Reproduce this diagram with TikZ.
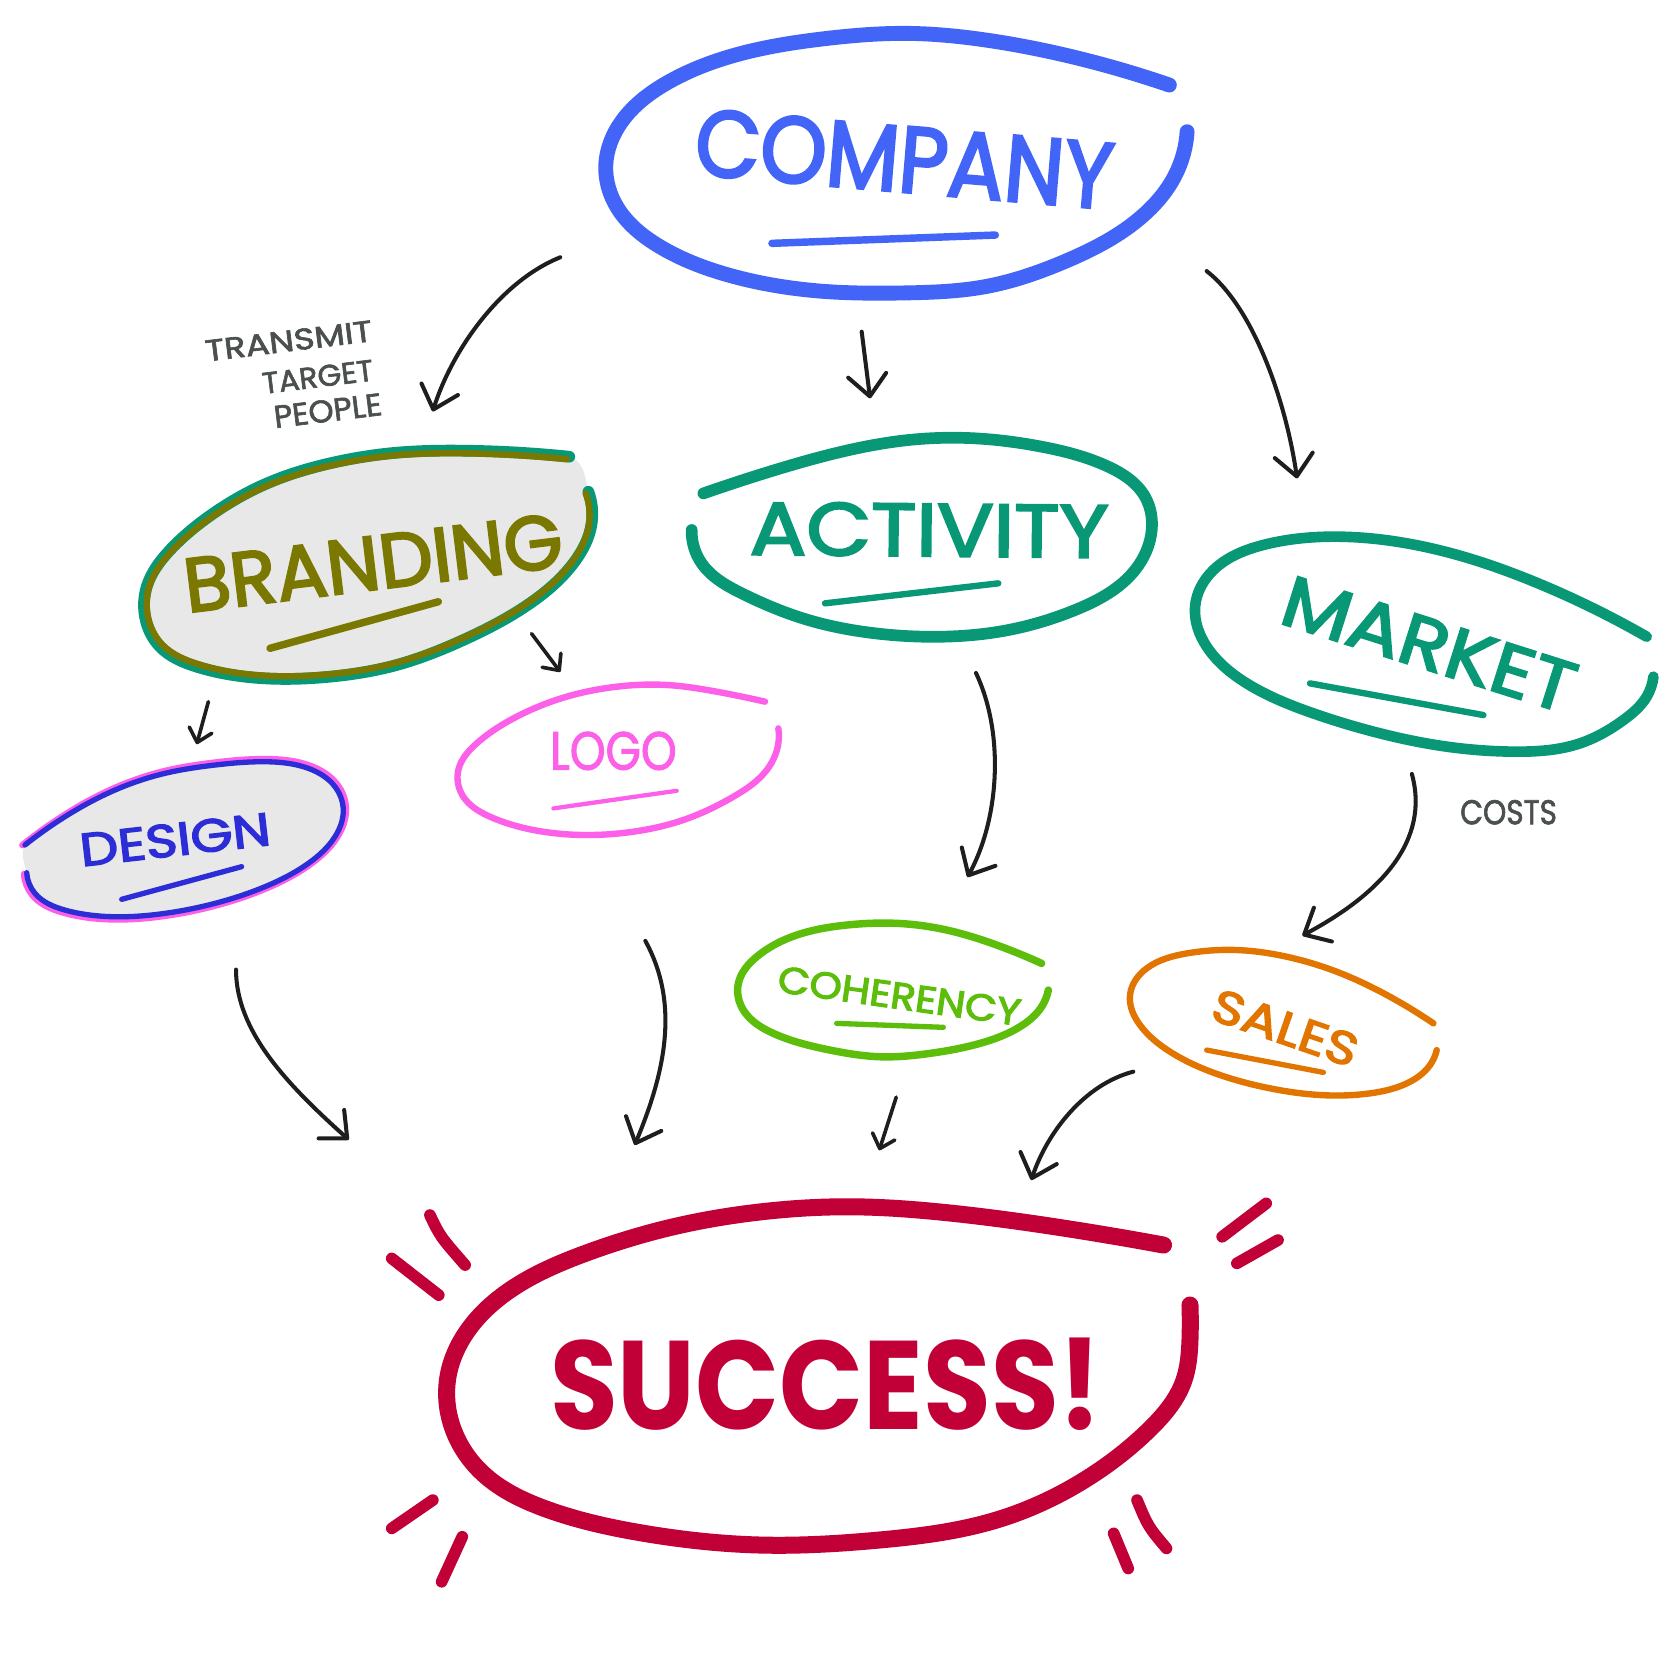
\documentclass[tikz,border=0pt]{standalone}
\usepackage{fontspec}
\setmainfont{Poppins}
\newfontfamily\handfont{Poppins}[FakeBold=3]
\newfontfamily\lightfont{Poppins}[FakeBold=2]
\usepackage{graphicx}
\usetikzlibrary{arrows.meta,hobby}
\definecolor{cblue}{RGB}{67,101,247}
\definecolor{cteal}{RGB}{8,152,118}
\definecolor{colive}{RGB}{122,120,0}
\definecolor{cfill}{RGB}{232,232,232}
\definecolor{cdblue}{RGB}{45,45,215}
\definecolor{cpink}{RGB}{252,95,232}
\definecolor{cgreen}{RGB}{92,190,10}
\definecolor{corange}{RGB}{225,117,0}
\definecolor{ccrimson}{RGB}{193,0,55}
\definecolor{cink}{RGB}{30,30,30}
\definecolor{cgray}{RGB}{73,80,77}
\newcommand{\fitbox}[3]{\resizebox*{#1pt}{#2pt}{#3}}
\tikzset{
  ring/.style={line cap=round, line join=round, use Hobby shortcut},
  uline/.style={line cap=round},
  txt/.style={inner sep=0pt, outer sep=0pt},
  bigarrow/.style={draw=cink, line width=3.8pt, line cap=round, -{Straight Barb[length=20pt,width=36pt,round]}},
  smallarrow/.style={draw=cink, line width=3.4pt, line cap=round, -{Straight Barb[length=12pt,width=22pt,round]}},
  burst/.style={draw=ccrimson, line width=11pt, line cap=round},
}
\begin{document}
\begin{tikzpicture}[x=1pt,y=-1pt]
\fill[white] (0,0) rectangle (1568,1568);
\useasboundingbox (0,0) rectangle (1568,1568);

% ---------- COMPANY ----------
\draw[ring, draw=cblue, line width=14pt] (1099.9,80) .. (1001.3,51.7) .. (926.9,37.6) .. (852.5,31.4) .. (778.1,36.1) .. (703.8,48.6) .. (629.4,76.8) .. (584.7,114.4) .. (569.8,155.2) .. (581.1,196) .. (618.2,230.5) .. (685.2,258.7) .. (778.1,274.3) .. (852.5,275.5) .. (926.9,269.6) .. (1001.3,246.1) .. (1075.7,202.2) .. (1105.5,164.6) .. (1116.6,123.9);
\node[txt, text=cblue, rotate=-4.8] (company) at (850.7,149.7) {\fitbox{394}{63}{\handfont COMPANY}};
\draw[uline, draw=cblue, line width=7pt] (726.1,228.9) -- (936.2,221.1);

% ---------- ACTIVITY ----------
\draw[ring, draw=cteal, line width=11pt] (661.6,464.1) .. (729,442.1) .. (791.7,424.9) .. (854.4,413.9) .. (917.1,412.3) .. (979.9,420.2) .. (1042.5,439) .. (1077,467.2) .. (1083.3,498.5) .. (1067.6,536.2) .. (1011.2,573.8) .. (948.5,592.6) .. (885.8,598.9) .. (823.1,595.7) .. (760.3,583.2) .. (697.7,558.1) .. (660,529.9) .. (650.6,498.5);
\node[txt, text=cteal, rotate=-0.5] (activity) at (874,498.5) {\fitbox{337}{50}{\handfont ACTIVITY}};
\draw[uline, draw=cteal, line width=6pt] (776,567.5) -- (939,548.7);

% ---------- MARKET ----------
\draw[ring, draw=cteal, line width=10pt] (1548.9,598.9) .. (1501.9,573.8) .. (1439.2,545.6) .. (1376.5,523.6) .. (1313.8,509.5) .. (1251.1,504.8) .. (1188.3,512.6) .. (1141.3,536.2) .. (1124.1,570.7) .. (1135.1,608.3) .. (1172.7,642.8) .. (1235.3,671) .. (1298.1,689.8) .. (1360.8,702.3) .. (1423.5,707) .. (1486.2,699.2) .. (1527,677.3) .. (1548.9,655.3) .. (1555.2,636.5);
\node[txt, text=cteal, rotate=-17.6] (market) at (1344.4,606) {\fitbox{285}{47}{\handfont MARKET}};
\draw[uline, draw=cteal, line width=6pt] (1232.2,642.8) -- (1395.3,672.6);

% ---------- BRANDING ----------
\fill[cfill] plot[smooth cycle] coordinates {(535.5,429.6) (435.8,423.9) (373.1,425.8) (310.4,435.8) (247.7,456.2) (200.7,482.9) (159.9,517.4) (138,551.9) (136.4,580) (150.5,608.3) (185,627.1) (247.7,638) (310.4,636.5) (373.1,625.5) (435.8,602) (498.5,567.5) (539.3,529.9) (556.5,492.3) (553.4,462.5)};
\draw[ring, draw=cteal, line width=11pt] (535.5,429.6) .. (435.8,423.9) .. (373.1,425.8) .. (310.4,435.8) .. (247.7,456.2) .. (200.7,482.9) .. (159.9,517.4) .. (138,551.9) .. (136.4,580) .. (150.5,608.3) .. (185,627.1) .. (247.7,638) .. (310.4,636.5) .. (373.1,625.5) .. (435.8,602) .. (498.5,567.5) .. (539.3,529.9) .. (556.5,492.3) .. (553.4,462.5);
\begin{scope}[shift={(346.5,531)}, xscale=0.988, yscale=0.977, shift={(-346.5,-531)}]
\draw[ring, draw=colive, line width=6pt] (535.5,429.6) .. (435.8,423.9) .. (373.1,425.8) .. (310.4,435.8) .. (247.7,456.2) .. (200.7,482.9) .. (159.9,517.4) .. (138,551.9) .. (136.4,580) .. (150.5,608.3) .. (185,627.1) .. (247.7,638) .. (310.4,636.5) .. (373.1,625.5) .. (435.8,602) .. (498.5,567.5) .. (539.3,529.9) .. (556.5,492.3) .. (553.4,462.5);
\end{scope}
\node[txt, text=colive, rotate=7] (branding) at (351,529.5) {\fitbox{358}{51}{\handfont BRANDING}};
\draw[uline, draw=colive, line width=7pt] (254,609.8) -- (412.3,566);

% ---------- DESIGN ----------
\fill[cfill] plot[smooth cycle] coordinates {(23.5,794.8) (61.1,768.2) (108.2,743.1) (155.2,727.4) (202.2,719.6) (249.3,716.5) (290,722.7) (315.1,740) (322.9,761.9) (315.1,787) (290,812.1) (249.3,834) (202.2,849.7) (155.2,859.1) (108.2,862.3) (61.1,856) (32.9,840.3) (25.1,820.9)};
\begin{scope}[shift={(173,789.4)}, xscale=1.017, yscale=1.035, shift={(-173,-789.4)}]
\draw[ring, draw=cpink, line width=6pt] (23.5,794.8) .. (61.1,768.2) .. (108.2,743.1) .. (155.2,727.4) .. (202.2,719.6) .. (249.3,716.5) .. (290,722.7) .. (315.1,740) .. (322.9,761.9) .. (315.1,787) .. (290,812.1) .. (249.3,834) .. (202.2,849.7) .. (155.2,859.1) .. (108.2,862.3) .. (61.1,856) .. (32.9,840.3) .. (25.1,820.9);
\end{scope}
\draw[ring, draw=cdblue, line width=5pt] (23.5,794.8) .. (61.1,768.2) .. (108.2,743.1) .. (155.2,727.4) .. (202.2,719.6) .. (249.3,716.5) .. (290,722.7) .. (315.1,740) .. (322.9,761.9) .. (315.1,787) .. (290,812.1) .. (249.3,834) .. (202.2,849.7) .. (155.2,859.1) .. (108.2,862.3) .. (61.1,856) .. (32.9,840.3) .. (25.1,820.9);
\node[txt, text=cdblue, rotate=6.5] (design) at (164.7,789.7) {\fitbox{180}{31}{\handfont DESIGN}};
\draw[uline, draw=cdblue, line width=5pt] (114.5,845.9) -- (227.3,815.2);

% ---------- LOGO ----------
\draw[ring, draw=cpink, line width=6pt] (719.6,660) .. (674.1,650.6) .. (627.1,644.3) .. (580.1,645.9) .. (533,655.3) .. (486,674.1) .. (448.4,699.2) .. (431.1,724.3) .. (435.8,749.4) .. (460.9,768.2) .. (501.7,780.7) .. (548.7,785.4) .. (595.7,782.3) .. (642.7,771.3) .. (689.8,749.4) .. (721.2,724.3) .. (732.1,699.2) .. (732.1,685.1);
\node[txt, text=cpink] (logo) at (577,706.3) {\fitbox{119}{36}{\lightfont LOGO}};
\draw[uline, draw=cpink, line width=4pt] (520.5,760.4) -- (636.5,743.8);

% ---------- COHERENCY ----------
\draw[ring, draw=cgreen, line width=7pt] (979.8,906.2) .. (937.5,888.9) .. (890.5,874.8) .. (843.5,868.5) .. (796.4,870.1) .. (749.4,879.5) .. (711.8,899.9) .. (694.5,925) .. (699.2,950.1) .. (727.4,972) .. (780.7,987.7) .. (827.8,994) .. (874.8,990.8) .. (921.8,981.4) .. (959.5,965.7) .. (979.8,946.9) .. (986.1,931.2);
\node[txt, text=cgreen, rotate=-8] (coherency) at (846,936.7) {\fitbox{230}{25}{\handfont COHERENCY}};
\draw[uline, draw=cgreen, line width=5pt] (787,962.6) -- (887.3,966.3);

% ---------- SALES ----------
\draw[ring, draw=corange, line width=6pt] (1348.3,962.6) .. (1304.4,935.9) .. (1257.3,914) .. (1210.3,899.9) .. (1163.3,893.6) .. (1116.2,896.8) .. (1078.6,910.8) .. (1062.9,935.9) .. (1072.3,964.2) .. (1100.6,989.3) .. (1147.6,1011.2) .. (1194.6,1023.7) .. (1241.7,1030) .. (1288.7,1028.4) .. (1326.3,1017.5) .. (1345.1,1001.8) .. (1351.4,987.7);
\node[txt, text=corange, rotate=-19] (sales) at (1209,966.9) {\fitbox{142}{31}{\handfont SALES}};
\draw[uline, draw=corange, line width=5pt] (1135,987.7) -- (1244.8,1008.7);

% ---------- SUCCESS ----------
\draw[ring, draw=ccrimson, line width=16pt] (1094.4,1171.1) .. (992.3,1153.9) .. (881.9,1139.8) .. (799.1,1135.1) .. (716.3,1139.8) .. (633.4,1153.9) .. (550.7,1178.9) .. (484.4,1210.3) .. (440.2,1251.1) .. (420.9,1298.1) .. (426.5,1345.1) .. (454.1,1385.9) .. (512,1418.8) .. (605.9,1442.3) .. (716.3,1453.3) .. (826.6,1448.6) .. (937.1,1429.8) .. (1019.9,1392.2) .. (1080.6,1345.1) .. (1113.7,1298.1) .. (1119.3,1260.5) .. (1119.3,1227.5);
\node[txt, text=ccrimson] (success) at (777,1301.6) {\fitbox{519}{87}{\bfseries SUCCESS!}};
\draw[burst] (404.4,1142.9) .. controls (414,1163) .. (437.5,1189.9);
\draw[burst] (368.5,1183.7) -- (412.7,1218.2);
\draw[burst] (1191,1131.9) -- (1149.6,1163.3);
\draw[burst] (1202.1,1166.4) -- (1163.4,1188.3);
\draw[burst] (407.1,1411) -- (368.5,1437.6);
\draw[burst] (434.8,1445.5) -- (415.4,1487.8);
\draw[burst] (1069.5,1411) .. controls (1080,1436) .. (1097.2,1456.4);
\draw[burst] (1047.5,1442.3) -- (1061.2,1475.3);

% ---------- side notes ----------
\node[txt, text=cgray, rotate=7, anchor=east] (transmit) at (350,311) {\fitbox{158}{20}{\lightfont TRANSMIT}};
\node[txt, text=cgray, rotate=7, anchor=east] (target) at (351,348) {\fitbox{105}{20}{\lightfont TARGET}};
\node[txt, text=cgray, rotate=7, anchor=east] (people) at (359,380) {\fitbox{102}{21}{\lightfont PEOPLE}};
\node[txt, text=cgray] (costs) at (1419,764) {\fitbox{91}{23}{\lightfont COSTS}};

% ---------- connector end points ----------
\coordinate (a1s) at (527,242);   \coordinate (a1e) at (407,387);
\coordinate (a2s) at (810.5,312); \coordinate (a2e) at (818.4,374.7);
\coordinate (a3s) at (1135,255);  \coordinate (a3e) at (1220,450);
\coordinate (a4s) at (196,660);   \coordinate (a4e) at (185,700);
\coordinate (a5s) at (500,596);   \coordinate (a5e) at (527,632);
\coordinate (a6s) at (918,633);   \coordinate (a6e) at (910,825);
\coordinate (a7s) at (1328,728);  \coordinate (a7e) at (1225,880);
\coordinate (a8s) at (222,912);   \coordinate (a8e) at (328,1072);
\coordinate (a9s) at (607,885);   \coordinate (a9e) at (597,1077);
\coordinate (a10s) at (843,1032); \coordinate (a10e) at (827,1082);
\coordinate (a11s) at (1066,1008);\coordinate (a11e) at (970,1110);

% ---------- connectors ----------
\draw[bigarrow] (a1s) .. controls (470,265) and (425,330) .. (a1e);
\draw[bigarrow] (a2s) -- (a2e);
\draw[bigarrow] (a3s) .. controls (1180,290) and (1210,380) .. (a3e);
\draw[smallarrow] (a4s) -- (a4e);
\draw[smallarrow] (a5s) -- (a5e);
\draw[bigarrow] (a6s) .. controls (945,690) and (940,770) .. (a6e);
\draw[bigarrow] (a7s) .. controls (1345,790) and (1300,840) .. (a7e);
\draw[bigarrow] (a8s) .. controls (222,970) and (270,1020) .. (a8e);
\draw[bigarrow] (a9s) .. controls (640,945) and (625,1010) .. (a9e);
\draw[smallarrow] (a10s) -- (a10e);
\draw[bigarrow] (a11s) .. controls (1020,1020) and (985,1065) .. (a11e);
\end{tikzpicture}
\end{document}
